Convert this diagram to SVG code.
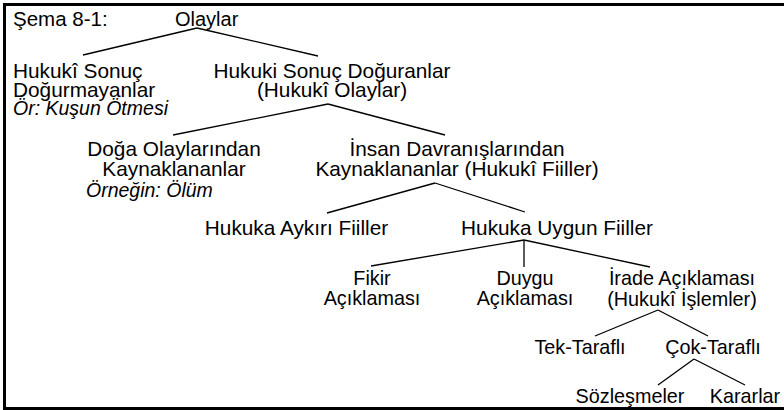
<svg xmlns="http://www.w3.org/2000/svg" width="784" height="410" viewBox="0 0 784 410">
<style>
text{font-family:"Liberation Sans",Arial,Helvetica,sans-serif;font-size:19.8px;fill:#000}
.u text{font-size:20.8px}
.c{text-anchor:middle}
.u .i,.i{font-style:italic;font-size:19.5px}
#connectors line{stroke:#000;stroke-width:1.3;fill:none}
</style>
<rect x="0" y="0" width="784" height="410" fill="#fff"/>
<rect id="frame" x="4.5" y="4.5" width="800" height="404" fill="none" stroke="#000" stroke-width="3"/>
<text id="caption" x="13" y="26" style="font-size:20.5px">Şema 8-1:</text>
<g id="connectors">
<line x1="197" y1="28" x2="83" y2="55"/>
<line x1="197" y1="28" x2="318" y2="56"/>
<line x1="328" y1="104" x2="173" y2="135"/>
<line x1="328" y1="104" x2="445" y2="135"/>
<line x1="435" y1="183" x2="327" y2="213"/>
<line x1="435" y1="183" x2="525" y2="212"/>
<line x1="524" y1="240" x2="371" y2="266"/>
<line x1="524" y1="240" x2="524" y2="267"/>
<line x1="524" y1="240" x2="650" y2="267"/>
<line x1="658" y1="310" x2="595" y2="336"/>
<line x1="658" y1="310" x2="708" y2="336"/>
<line x1="694" y1="359" x2="658" y2="385"/>
<line x1="694" y1="359" x2="745" y2="385"/>
</g>
<g id="olaylar" class="u"><text x="175" y="26" style="font-size:20px">Olaylar</text></g>
<g id="hukuki-sonuc-dogurmayanlar" class="u">
<text x="13" y="78">Hukukî Sonuç</text>
<text x="13" y="97">Doğurmayanlar</text>
<text class="i" x="13" y="115">Ör: Kuşun Ötmesi</text>
</g>
<g id="hukuki-olaylar" class="u">
<text class="c" x="332" y="78">Hukuki Sonuç Doğuranlar</text>
<text class="c" x="332" y="97">(Hukukî Olaylar)</text>
</g>
<g id="doga-olaylari" class="u">
<text class="c" x="174" y="156">Doğa Olaylarından</text>
<text class="c" x="174" y="176">Kaynaklananlar</text>
<text class="i" x="86" y="197">Örneğin: Ölüm</text>
</g>
<g id="hukuki-fiiller" class="u">
<text class="c" x="457" y="156">İnsan Davranışlarından</text>
<text class="c" x="457" y="176">Kaynaklananlar (Hukukî Fiiller)</text>
</g>
<g id="aykiri" class="u"><text class="c" x="296.5" y="235">Hukuka Aykırı Fiiller</text></g>
<g id="uygun" class="u"><text class="c" x="557" y="235">Hukuka Uygun Fiiller</text></g>
<g id="fikir">
<text class="c" x="372" y="285">Fikir</text>
<text class="c" x="372" y="305">Açıklaması</text>
</g>
<g id="duygu">
<text class="c" x="525" y="285">Duygu</text>
<text class="c" x="525" y="305">Açıklaması</text>
</g>
<g id="irade">
<text class="c" x="682" y="285">İrade Açıklaması</text>
<text class="c" x="682" y="306">(Hukukî İşlemler)</text>
</g>
<g id="tek"><text class="c" x="580" y="354">Tek-Taraflı</text></g>
<g id="cok"><text class="c" x="713" y="354">Çok-Taraflı</text></g>
<g id="sozlesmeler"><text class="c" x="630" y="403">Sözleşmeler</text></g>
<g id="kararlar"><text class="c" x="745" y="403">Kararlar</text></g>
</svg>
